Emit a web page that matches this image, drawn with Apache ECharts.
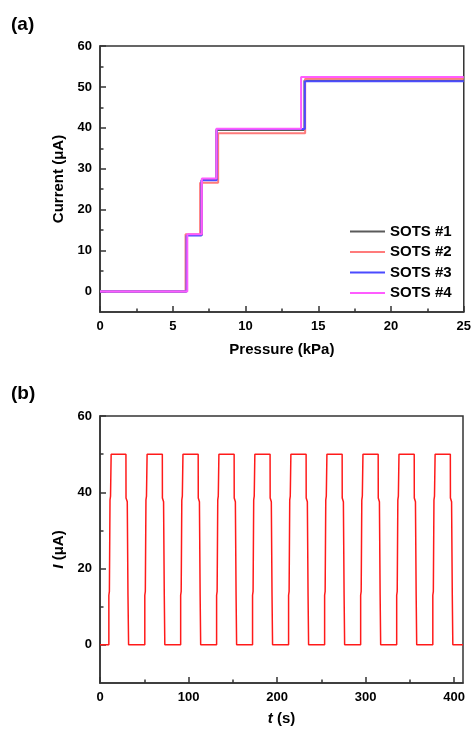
<!DOCTYPE html>
<html><head><meta charset="utf-8">
<script src="https://cdn.jsdelivr.net/npm/echarts@6/dist/echarts.min.js"></script>
<style>html,body{margin:0;padding:0;background:#fff}#c{width:474px;height:733px}</style>
</head><body><div id="c"></div>
<script>
// ---- Panel (a): current vs pressure, four sensors (step curves) ----
const seriesNames = ['SOTS #1', 'SOTS #2', 'SOTS #3', 'SOTS #4'];
const pressure1 = [0, 5.93, 7.0, 8.0, 14.05, 25];
const current1  = [0, 13.8, 27.3, 39.5, 51.6, 51.6];
const pressure2 = [0, 5.88, 6.88, 8.12, 14.1, 25];
const current2  = [0, 14.0, 26.6, 38.7, 52.0, 52.0];
const pressure3 = [0, 5.95, 6.97, 8.02, 14.08, 25];
const current3  = [0, 13.7, 27.2, 39.7, 51.4, 51.4];
const pressure4 = [0, 6.0, 7.0, 8.0, 13.82, 25];
const current4  = [0, 14.0, 27.6, 39.8, 52.4, 52.4];
const aXTicks = [0, 5, 10, 15, 20, 25];
const aYTicks = [0, 10, 20, 30, 40, 50, 60];
const aYMinor = [5, 15, 25, 35, 45, 55];

// ---- Panel (b): current vs time, cyclic loading ----
const timeS = [
  0,
  10.0, 10.0, 10.6, 11.3, 11.9, 12.6, 29.3, 29.4, 30.8, 31.6, 32.3,
  50.6, 50.6, 51.2, 51.9, 52.5, 53.2, 70.4, 70.5, 71.8, 72.6, 73.2,
  91.1, 91.1, 91.7, 92.4, 93.0, 93.7, 110.9, 111.0, 112.3, 113.1, 113.7,
  131.7, 131.7, 132.3, 133.0, 133.6, 134.3, 151.5, 151.6, 152.9, 153.7, 154.3,
  172.3, 172.3, 172.9, 173.6, 174.2, 174.9, 192.1, 192.2, 193.5, 194.3, 194.9,
  213.0, 213.0, 213.6, 214.3, 214.9, 215.6, 232.8, 232.9, 234.2, 235.0, 235.6,
  253.7, 253.7, 254.3, 255.0, 255.6, 256.3, 273.5, 273.6, 274.9, 275.7, 276.3,
  294.4, 294.4, 295.0, 295.7, 296.3, 297.0, 314.2, 314.3, 315.6, 316.4, 317.0,
  335.1, 335.1, 335.7, 336.4, 337.0, 337.7, 354.9, 355.0, 356.3, 357.1, 357.7,
  375.9, 375.9, 376.5, 377.2, 377.8, 378.5, 395.7, 395.8, 397.1, 397.9, 398.5,
  410
];
const currentI = [
  0,
  0, 13, 14, 38, 39, 50, 50, 38.5, 37.5, 13, 0,
  0, 13, 14, 38, 39, 50, 50, 38.5, 37.5, 13, 0,
  0, 13, 14, 38, 39, 50, 50, 38.5, 37.5, 13, 0,
  0, 13, 14, 38, 39, 50, 50, 38.5, 37.5, 13, 0,
  0, 13, 14, 38, 39, 50, 50, 38.5, 37.5, 13, 0,
  0, 13, 14, 38, 39, 50, 50, 38.5, 37.5, 13, 0,
  0, 13, 14, 38, 39, 50, 50, 38.5, 37.5, 13, 0,
  0, 13, 14, 38, 39, 50, 50, 38.5, 37.5, 13, 0,
  0, 13, 14, 38, 39, 50, 50, 38.5, 37.5, 13, 0,
  0, 13, 14, 38, 39, 50, 50, 38.5, 37.5, 13, 0,
  0
];
const bXTicks = [0, 100, 200, 300, 400];
const bXMinor = [50, 150, 250, 350];
const bYTicks = [0, 20, 40, 60];
const bYMinor = [10, 30, 50];

const FONT = "'Liberation Sans', Arial, Helvetica, sans-serif";
const AX = '#333';
const zip = (xs, ys) => xs.map((x, i) => [x, ys[i]]);

function mainAxis(extra) {
  return Object.assign({
    type: 'value',
    axisLine: { show: true, onZero: false, lineStyle: { color: AX, width: 1.5 } },
    axisTick: { show: true, inside: true, length: 6, lineStyle: { color: AX, width: 1.5 } },
    axisLabel: { color: '#000', fontFamily: FONT, fontWeight: 'bold', fontSize: 13, margin: 8 },
    splitLine: { show: false },
    nameTextStyle: { color: '#000', fontFamily: FONT, fontWeight: 'bold', fontSize: 15 }
  }, extra);
}
function minorAxis(extra) {
  return Object.assign({
    type: 'value',
    axisLine: { show: false, onZero: false },
    axisTick: { show: true, inside: true, length: 3.5, lineStyle: { color: AX, width: 1.5 } },
    axisLabel: { show: false },
    splitLine: { show: false }
  }, extra);
}

const chart = echarts.init(document.getElementById('c'), null, { renderer: 'canvas' });
const colors = ['#5a5a5a', '#ff7b7b', '#4b4bff', '#ff5cff'];
const aData = [zip(pressure1, current1), zip(pressure2, current2), zip(pressure3, current3), zip(pressure4, current4)];

chart.setOption({
  animation: false,
  backgroundColor: '#fff',
  textStyle: { fontFamily: FONT },
  grid: [
    { left: 100, top: 46, right: 10, bottom: 421, show: true, borderColor: AX, borderWidth: 1.5, containLabel: false },
    { left: 100, top: 416, right: 11, bottom: 50, show: true, borderColor: AX, borderWidth: 1.5, containLabel: false }
  ],
  xAxis: [
    mainAxis({ gridIndex: 0, min: 0, max: 25, interval: 5, position: 'bottom',
      minorTick: { show: true, splitNumber: 2, length: 3.5, lineStyle: { color: AX, width: 1.5 } },
      name: 'Pressure (kPa)', nameLocation: 'middle', nameGap: 30 }),
    mainAxis({ gridIndex: 1, min: 0, max: 410, position: 'bottom',
      axisTick: { show: true, inside: true, length: 6, customValues: bXTicks, lineStyle: { color: AX, width: 1.5 } },
      axisLabel: { color: '#000', fontFamily: FONT, fontWeight: 'bold', fontSize: 13, margin: 8, customValues: bXTicks },
      name: '{i|t} (s)', nameLocation: 'middle', nameGap: 28,
      nameTextStyle: { color: '#000', fontFamily: FONT, fontWeight: 'bold', fontSize: 15,
        rich: { i: { fontStyle: 'italic', fontWeight: 'bold', fontSize: 15, fontFamily: FONT, color: '#000' } } } }),
    minorAxis({ gridIndex: 1, min: 0, max: 410, position: 'bottom',
      axisTick: { show: true, inside: true, length: 3.5, customValues: bXMinor, lineStyle: { color: AX, width: 1.5 } } })
  ],
  yAxis: [
    mainAxis({ gridIndex: 0, min: -5, max: 60, position: 'left',
      axisTick: { show: true, inside: true, length: 6, customValues: aYTicks, lineStyle: { color: AX, width: 1.5 } },
      axisLabel: { color: '#000', fontFamily: FONT, fontWeight: 'bold', fontSize: 13, margin: 8, customValues: aYTicks },
      name: 'Current (μA)', nameLocation: 'middle', nameGap: 34 }),
    minorAxis({ gridIndex: 0, min: -5, max: 60, position: 'left',
      axisTick: { show: true, inside: true, length: 3.5, customValues: aYMinor, lineStyle: { color: AX, width: 1.5 } } }),
    mainAxis({ gridIndex: 1, min: -10, max: 60, position: 'left',
      axisTick: { show: true, inside: true, length: 6, customValues: bYTicks, lineStyle: { color: AX, width: 1.5 } },
      axisLabel: { color: '#000', fontFamily: FONT, fontWeight: 'bold', fontSize: 13, margin: 8, customValues: bYTicks },
      name: '{i|I} (μA)', nameLocation: 'middle', nameGap: 34,
      nameTextStyle: { color: '#000', fontFamily: FONT, fontWeight: 'bold', fontSize: 15,
        rich: { i: { fontStyle: 'italic', fontWeight: 'bold', fontSize: 15, fontFamily: FONT, color: '#000' } } } }),
    minorAxis({ gridIndex: 1, min: -10, max: 60, position: 'left',
      axisTick: { show: true, inside: true, length: 3.5, customValues: bYMinor, lineStyle: { color: AX, width: 1.5 } } })
  ],
  legend: {
    data: seriesNames,
    orient: 'vertical',
    left: 345, top: 218,
    icon: 'rect',
    itemWidth: 35, itemHeight: 2, itemGap: 3.5,
    textStyle: { color: '#000', fontFamily: FONT, fontWeight: 'bold', fontSize: 15, lineHeight: 17 }
  },
  graphic: [
    { type: 'text', left: 11, top: 15, style: { text: '(a)', font: 'bold 19px ' + FONT, fill: '#000' } },
    { type: 'text', left: 11, top: 384, style: { text: '(b)', font: 'bold 19px ' + FONT, fill: '#000' } }
  ],
  series: [
    ...aData.map((d, i) => ({
      name: seriesNames[i], type: 'line', xAxisIndex: 0, yAxisIndex: 0, step: 'end',
      data: d, symbol: 'none', showSymbol: false, silent: true,
      lineStyle: { color: colors[i], width: 2 }, itemStyle: { color: colors[i] }
    })),
    { name: 'I', type: 'line', xAxisIndex: 1, yAxisIndex: 2, data: zip(timeS, currentI),
      symbol: 'none', showSymbol: false, silent: true,
      lineStyle: { color: '#ff1a1a', width: 1.5 }, itemStyle: { color: '#ff1a1a' } }
  ]
});
</script></body></html>
